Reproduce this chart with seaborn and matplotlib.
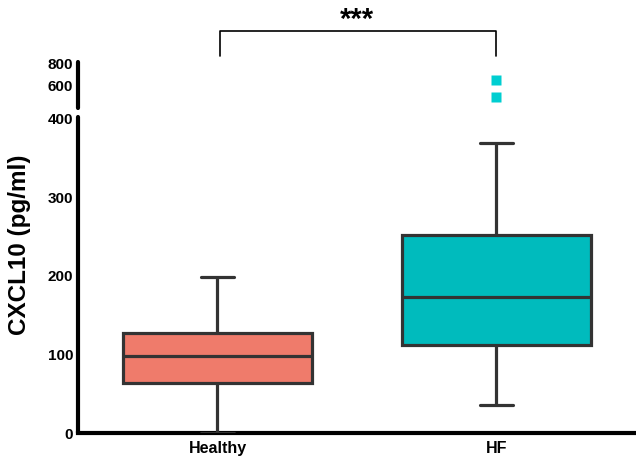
import matplotlib
matplotlib.use("Agg")
import matplotlib.pyplot as plt
import matplotlib.transforms as mtrans
import seaborn as sns
import pandas as pd
import numpy as np

# sample values (quartiles, whiskers, outliers)
healthy = [0, 64, 98, 127, 199]
hf = [36, 60, 95, 112, 130, 155, 173, 200, 230, 252, 369, 491, 645]
groups = ["Healthy", "HF"]
low_ticks = [0, 100, 200, 300, 400]
high_ticks = [600, 800]

data = pd.DataFrame({
    "Group": ["Healthy"] * len(healthy) + ["HF"] * len(hf),
    "Value": healthy + hf,
})

sns.set_style("white")
plt.rcParams["font.family"] = ["Liberation Sans", "DejaVu Sans"]
plt.rcParams["font.weight"] = "bold"
plt.rcParams["text.color"] = "black"
plt.rcParams["xtick.color"] = "black"
plt.rcParams["ytick.color"] = "black"

custom_palette = {"Healthy": "#EF7B6B", "HF": "#00BBBD"}

fig = plt.figure(figsize=(6.36, 4.59), dpi=100)
ax_low = fig.add_axes([0.1226, 0.0566, 0.8774, 0.6885])
ax_high = fig.add_axes([0.1226, 0.7647, 0.8774, 0.1002])

for ax in (ax_low, ax_high):
    sns.boxplot(
        data=data, x="Group", y="Value", hue="Group", order=groups,
        palette=custom_palette, saturation=1, width=0.68, linewidth=2.3,
        linecolor="#333333", capwidths=0.115, legend=False, ax=ax,
        flierprops=dict(marker="s", markerfacecolor="#00CED1",
                        markeredgecolor="none", markersize=7),
    )
    ax.set_xlim(-0.5, 1.5)
    ax.set_xlabel("")
    ax.set_ylabel("")
    for s in ["top", "right"]:
        ax.spines[s].set_visible(False)
    ax.spines["left"].set_linewidth(3)
    ax.spines["left"].set_color("black")
    ax.spines["left"].set_capstyle("round")
    ax.tick_params(axis="y", length=2.5, width=2.5, color="black",
                   labelcolor="black", labelsize=11, pad=1)

ax_low.set_ylim(0, 402.5)
ax_low.set_yticks(low_ticks)
ax_low.set_yticklabels([str(v) for v in low_ticks], fontweight="bold")
ax_low.spines["bottom"].set_linewidth(3)
ax_low.spines["bottom"].set_color("black")
ax_low.spines["bottom"].set_zorder(0.5)
ax_low.tick_params(axis="x", length=2.5, width=2.5, color="black",
                   labelcolor="black", labelsize=11.5, pad=3)
ax_low.set_xticks([0, 1])
ax_low.set_xticklabels(groups, fontweight="bold")

ax_high.set_ylim(391, 809)
ax_high.set_yticks(high_ticks)
ax_high.set_yticklabels([str(v) for v in high_ticks], fontweight="bold")
ax_high.spines["bottom"].set_visible(False)
ax_high.set_xticks([])
ax_high.patch.set_alpha(0)

fig.text(0.031, 1 - 245 / 459, "CXCL10 (pg/ml)", rotation=90,
         ha="center", va="center", fontsize=17.5, fontweight="bold")

# significance bracket
tr = mtrans.blended_transform_factory(ax_high.transData, fig.transFigure)
y_top = 1 - 31 / 459
y_bot = 1 - 56 / 459
ax_high.plot([0.01, 0.01, 1, 1], [y_bot, y_top, y_top, y_bot], color="black",
             lw=1.2, transform=tr, clip_on=False)
ax_high.text(0.5, 1 - 20 / 459, "***", transform=tr, ha="center", va="center",
             fontsize=21, fontweight="bold")

fig.savefig("out.png", dpi=100)
